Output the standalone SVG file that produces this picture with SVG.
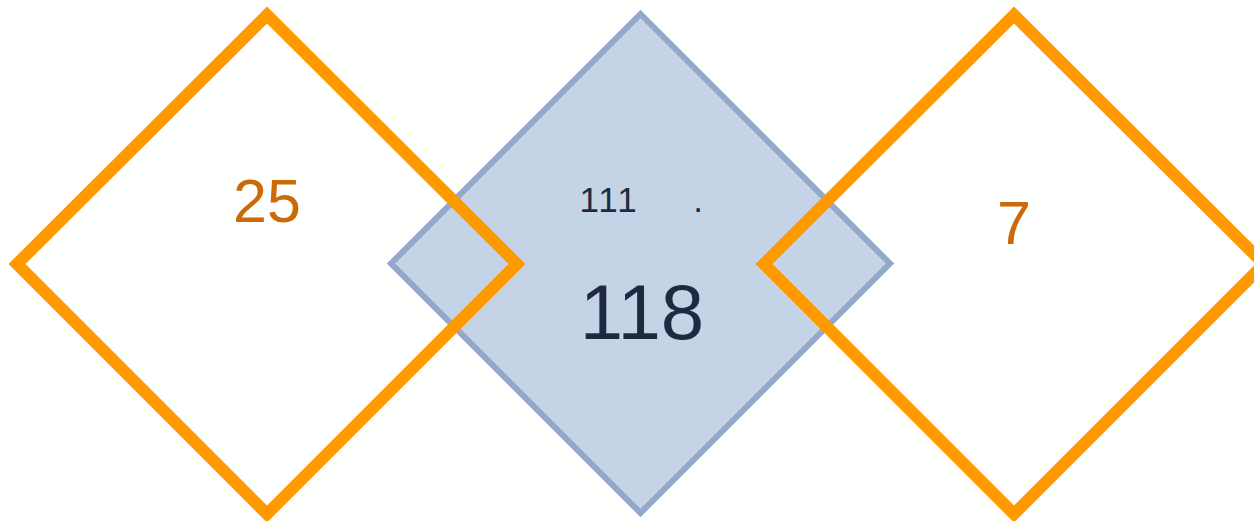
<svg xmlns="http://www.w3.org/2000/svg" width="1254" height="521" viewBox="0 0 1254 521">
<style>
.orange{fill:none;stroke:#ff9900;stroke-width:12;stroke-linejoin:miter}
.blue{fill:#c5d3e6;stroke:#93a9c9;stroke-width:6;stroke-linejoin:miter}
.ot{font-family:"Liberation Sans",Arial,sans-serif;fill:#cc6a08;text-anchor:middle}
.dt{font-family:"Liberation Sans",Arial,sans-serif;fill:#1f2a40;text-anchor:middle}
</style>
<rect width="1254" height="521" fill="#ffffff"/>
<g id="center">
<polygon class="blue" points="640.5,14 890,263.5 640.5,513 391,263.5"/>
<text class="dt" x="609" y="212" font-size="35" letter-spacing="2">111</text>
<text class="dt" x="698" y="212" font-size="35">.</text>
<text class="dt" x="642" y="339" font-size="78">118</text>
</g>
<g id="left">
<polygon class="orange" points="267,15 517,264 267,514 17,264"/>
<text class="ot" x="267" y="222" font-size="61">25</text>
</g>
<g id="right">
<polygon class="orange" points="1014,15 1264,264 1014,514 764,264"/>
<text class="ot" x="1014" y="244" font-size="61">7</text>
</g>
<g id="connectors"></g>
</svg>
